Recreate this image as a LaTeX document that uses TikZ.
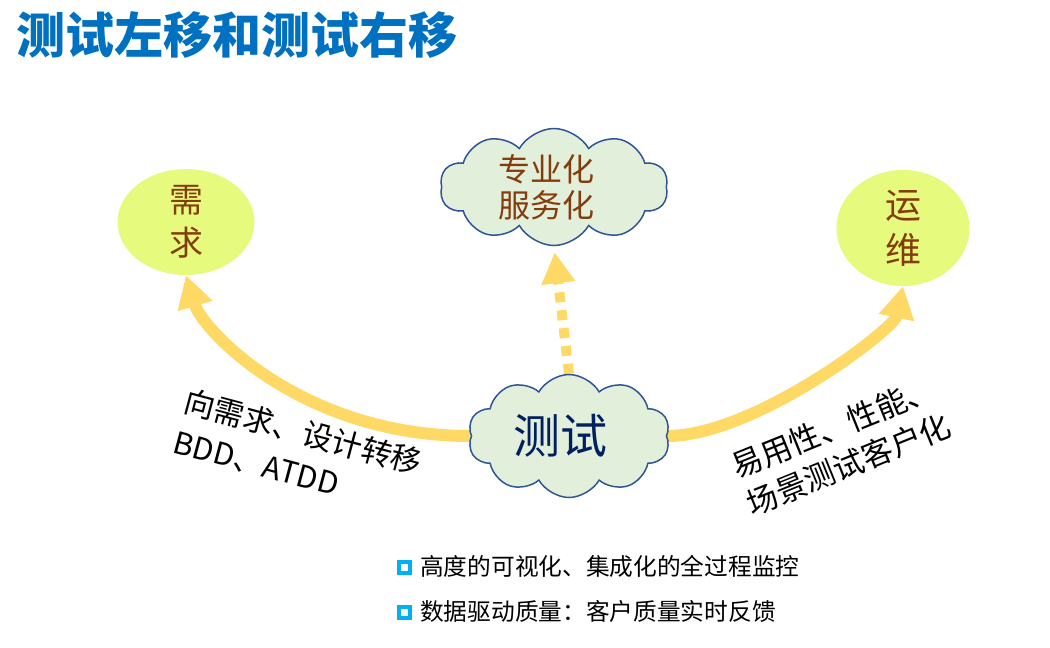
\documentclass[tikz,border=0pt]{standalone}
\usepackage{fontspec}
\setmainfont{Noto Sans CJK SC}
\usetikzlibrary{shapes.geometric,shapes.symbols,arrows.meta,backgrounds}
\definecolor{titleblue}{RGB}{0,112,192}
\definecolor{brownt}{RGB}{132,60,12}
\definecolor{navyt}{RGB}{0,32,96}
\definecolor{cloudfill}{RGB}{226,239,218}
\definecolor{cloudline}{RGB}{47,85,151}
\definecolor{ellfill}{RGB}{230,250,125}
\definecolor{arrowy}{RGB}{255,217,102}
\definecolor{bulletc}{RGB}{0,176,240}
\tikzset{
  cloudbox/.style={cloud, cloud puffs=10, cloud puff arc=120, cloud ignores aspect,
    draw=cloudline, fill=cloudfill, line width=1.5pt, inner sep=0pt, align=center},
  ellbox/.style={ellipse, fill=ellfill, inner sep=0pt, align=center, text=brownt},
  bigarrow/.style={arrowy, line width=12pt, -{Triangle[length=32pt,width=34pt]}},
  dasharrow/.style={arrowy, line width=10pt, dash pattern=on 10pt off 8pt,
    -{Triangle[length=31pt,width=32pt]}},
  sidelabel/.style={align=left, inner sep=0pt, text=black},
  bulletsq/.style={draw=bulletc, line width=3.5pt, fill=white, minimum size=11pt, inner sep=0pt},
  bullettext/.style={anchor=base west, inner sep=0pt, font=\fontsize{23.7}{28}\selectfont}
}
\begin{document}
\begin{tikzpicture}[x=1pt,y=-1pt]
\useasboundingbox (0,0) rectangle (1050,648);
% title
\node[anchor=base west, inner sep=0pt, text=titleblue, font=\bfseries\fontsize{49}{55}\selectfont] (title) at (16,53) {测试左移和测试右移};
% ellipses
\node[ellbox, minimum width=137pt, minimum height=106pt, font=\fontsize{34}{43}\selectfont] (req) at (186,222) {需\\求};
\node[ellbox, minimum width=133pt, minimum height=116pt, font=\fontsize{36}{45}\selectfont] (ops) at (903,228) {运\\维};
% clouds
\node[cloudbox, minimum width=228pt, minimum height=117pt, text=brownt, font=\fontsize{32}{36}\selectfont] (svc) at (554,187) {专业化\kern16pt\\服务化\kern16pt};
\node[cloudbox, minimum width=202pt, minimum height=123pt, text=navyt, font=\fontsize{47}{50}\selectfont] (test) at (569,436) {测试\kern18pt};
% arrows
\begin{scope}[on background layer]
\draw[bigarrow] (test.west) .. controls +(-170,0) and +(16,54) .. (req.south);
\draw[bigarrow] (test.east) .. controls +(87,0) and +(-9,43) .. (ops.south);
\draw[dasharrow, shorten >=6pt] (test.north) -- (svc.south);
\end{scope}
% side labels
\node[sidelabel, rotate=-15, font=\fontsize{30.5}{42}\selectfont] (leftlab) at (298,452) {向需求、设计转移\\BDD、ATDD};
\node[sidelabel, rotate=22, font=\fontsize{31}{40}\selectfont] (rightlab) at (841,446) {易用性、性能、\\场景测试客户化};
% bullets
\node[bulletsq] (sq1) at (404.5,567.5) {};
\node[bulletsq] (sq2) at (404.5,612.5) {};
\node[bullettext] (b1) at (420,575) {高度的可视化、集成化的全过程监控};
\node[bullettext] (b2) at (420,620) {数据驱动质量：客户质量实时反馈};
\end{tikzpicture}
\end{document}
